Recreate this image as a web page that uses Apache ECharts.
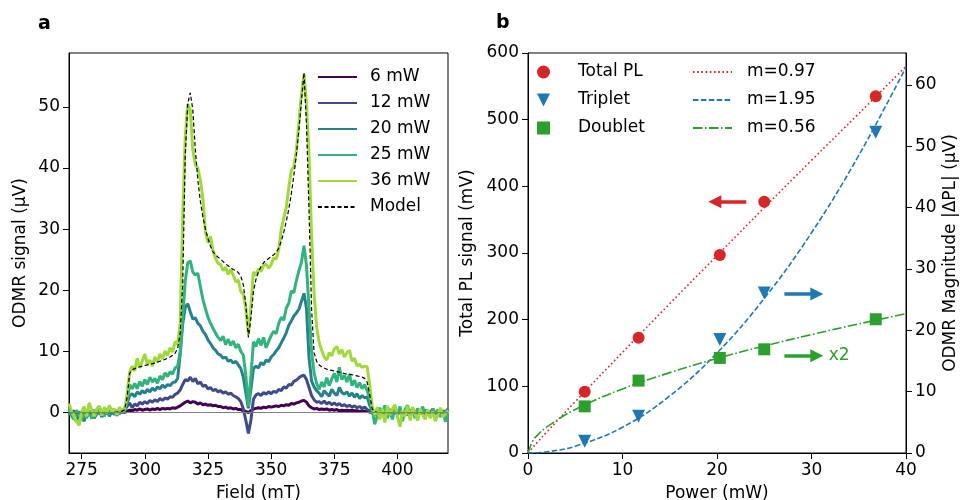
<!DOCTYPE html>
<html>
<head>
<meta charset="utf-8">
<script src="https://cdn.jsdelivr.net/npm/echarts@6.0.0/dist/echarts.min.js"></script>
<style>
  html, body { margin: 0; padding: 0; background: #fff; }
  #chart { width: 960px; height: 500px; }
</style>
</head>
<body>
<div id="chart"></div>
<script>
// ---- panel a : ODMR spectra, one value per mT from 270 to 420 ----
var field = [
  270,271,272,273,274,275,276,277,278,279, 280,281,282,283,284,285,286,287,288,289,
  290,291,292,293,294,295,296,297,298,299, 300,301,302,303,304,305,306,307,308,309,
  310,311,312,313,314,315,316,317,318,319, 320,321,322,323,324,325,326,327,328,329,
  330,331,332,333,334,335,336,337,338,339, 340,341,342,343,344,345,346,347,348,349,
  350,351,352,353,354,355,356,357,358,359, 360,361,362,363,364,365,366,367,368,369,
  370,371,372,373,374,375,376,377,378,379, 380,381,382,383,384,385,386,387,388,389,
  390,391,392,393,394,395,396,397,398,399, 400,401,402,403,404,405,406,407,408,409,
  410,411,412,413,414,415,416,417,418,419, 420
];

var odmr6 = [
  0,0.05,-0.05,0.1,0,-0.1,0.05,0,-0.05,0.05, 0,0.1,-0.05,0.05,0,0.05,-0.05,0.1,0,0.05,
  0,0.1,0.05,0.2,0.4,0.3,0.5,0.4,0.6,0.4, 0.5,0.6,0.4,0.6,0.5,0.7,0.5,0.7,0.6,0.7,
  0.6,0.8,0.7,0.9,1.1,1.4,1.7,1.9,1.6,1.8, 1.7,1.4,1.6,1.3,1.4,1.2,1.3,1.1,1.2,1.0,
  1.0,0.8,0.9,0.7,0.8,0.6,0.7,0.5,0.5,0.3, 0.2,0.0,0.3,0.6,0.7,0.8,0.7,0.9,0.8,1.0,
  0.9,1.0,1.1,1.0,1.2,1.1,1.3,1.2,1.5,1.4, 1.6,1.7,1.9,2.0,1.7,1.1,0.8,0.6,0.7,0.5,
  0.6,0.5,0.6,0.4,0.5,0.4,0.5,0.3,0.4,0.3, 0.4,0.3,0.4,0.3,0.3,0.2,0.3,0.2,0.2,0.1,
  0.05,0,0.05,-0.05,0,0.05,0,-0.05,0.05,0, 0,0.05,-0.05,0,0.05,0,-0.05,0.05,0,0,
  0.05,0,-0.05,0,0.05,0,0,-0.05,0.05,0, 0
];
var odmr12 = [
  0.1,-0.2,0.3,-0.4,0.1,-0.3,0.2,-0.5,0.1,-0.2, 0.3,-0.1,0.2,-0.4,0.1,-0.2,0.3,-0.1,0.2,0.0,
  0.2,0.1,0.4,1.0,1.6,0.8,1.4,1.1,1.7,1.4, 1.8,1.5,2.0,1.7,2.1,1.8,2.3,2.0,2.4,2.2,
  2.6,2.5,3.0,3.2,3.7,4.6,5.4,5.2,5.8,5.1, 5.6,4.7,5.0,4.3,4.5,3.9,4.1,3.6,3.8,3.4,
  3.6,3.2,3.4,3.0,3.2,2.8,2.6,2.3,1.8,0.6, -1.3,-3.4,-1.2,2.2,2.9,3.1,2.8,3.3,3.0,3.4,
  3.1,3.5,3.3,3.8,3.6,4.2,4.0,4.6,4.5,5.1, 5.3,5.7,6.0,6.1,5.4,4.1,2.8,2.1,1.7,1.8,
  1.5,1.9,1.4,1.7,1.3,1.6,1.2,1.5,1.1,1.3, 1.0,1.2,0.9,1.1,0.8,1.0,0.7,0.9,0.5,0.3,
  0.0,-0.2,0.2,-0.3,0.1,-0.1,0.2,-0.2,0.1,0.0, -0.2,0.2,-0.1,0.1,-0.3,0.2,0.0,-0.2,0.1,-0.1,
  0.2,-0.2,0.1,-0.1,0.2,0.0,-0.2,0.1,-0.1,0.2, 0.0
];
var odmr20 = [
  -0.3,0.4,-0.8,-1.5,0.2,-0.6,-1.4,0.3,-0.5,0.5, -0.9,-0.2,0.4,-0.7,-0.1,0.5,-0.6,0.2,-0.3,0.4,
  -0.2,0.3,0.6,1.5,2.8,3.1,2.6,3.4,3.0,3.6, 3.2,3.8,3.4,4.0,3.6,4.2,3.9,4.5,4.1,4.6,
  4.4,4.9,5.0,5.6,9.5,14.5,17.2,17.8,16.5,15.3, 15.5,14.6,14.2,13.3,12.8,11.9,11.3,10.6,10.2,9.6,
  9.4,8.9,9.1,8.4,8.6,8.1,8.4,7.8,7.2,5.8, 3.2,0.7,3.8,7.2,7.6,7.3,8.2,7.8,8.6,8.3,
  9.1,9.5,10.1,10.6,11.4,12.2,13.1,14.3,15.0,15.8, 16.3,16.9,18.2,19.5,17,9,5.2,4.2,3.6,3.2,
  2.6,3.6,3.1,2.7,3.8,3.2,2.8,4.1,3.3,3.0, 3.4,2.7,3.2,2.5,3.1,2.3,2.8,2.4,2.6,1.2,
  0.2,-0.4,0.5,-0.6,0.3,-0.2,0.7,-0.5,0.1,0.4, -0.3,0.6,-0.7,0.2,-0.4,0.5,-0.1,0.3,-0.6,0.4,
  -0.2,0.5,-0.4,0.1,0.6,-0.3,0.2,-0.5,0.3,0.1, 0.6
];
var odmr25 = [
  0.5,-0.6,-1.1,0.4,-0.4,-1.3,0.2,-0.9,0.3,-1.0, 0.4,-0.4,0.9,0.1,-0.6,0.7,-0.3,0.5,0.1,-0.5,
  0.4,0.0,0.3,2.0,4.6,3.9,4.8,3.9,5.1,4.3, 5.4,4.6,5.8,5.0,5.6,4.8,6.0,5.4,6.5,5.9,
  6.7,6.3,7.3,7.6,10,15.5,21.5,24.5,24.8,23, 22.5,22.8,20.6,18.5,17,15.6,14.6,13.8,13,12.3,
  11.8,12.5,11.1,12.0,11,11.7,10.6,11.2,10,9.4, 6,1,6,11.6,10.8,12.1,11,12.3,10.6,11.6,
  12.6,13.3,12.9,14.6,15.6,15.1,17.1,17.9,19.9,19.6, 21.6,23.2,24.6,27.3,24,17,10,6.5,4.8,3.8,
  5.0,4.2,5.7,4.4,5.5,6.4,5.0,7.4,5.4,6.1, 5.0,6.3,4.4,5.3,4.1,4.9,3.9,4.6,3.6,2.4,
  0.4,-1.9,-0.5,0.8,-0.3,1.2,-0.9,0.6,-1.1,0.8, -0.4,1.0,-1.4,0.5,1.2,-0.5,0.3,-0.9,0.7,-0.2,
  1.0,-0.6,0.4,-0.8,0.6,-0.3,0.5,-0.7,0.2,-1.5, 0.5
];
var odmr36 = [
  1.5,0.2,-0.6,-1.4,-2.1,0.1,1.0,-0.6,1.6,0.4, -0.6,0.6,1.1,-0.5,0.9,-0.1,1.2,0.2,0.6,-0.3,
  0.9,0.2,0.6,3.0,6.6,7.6,6.8,8.9,7.3,8.4, 9.6,7.9,8.6,7.6,9.1,8.3,9.6,8.8,10.1,9.3,
  10.6,9.9,11.6,11.2,14.5,32,45,50.5,49.5,43, 40.5,40,38,35,29.5,27.8,28.8,26.5,25.2,24.4,
  24.2,23.2,23.8,22.6,23.4,22.5,21.4,21.7,19.8,19.3, 17,12.8,17.5,23,22.4,23.5,23.1,24,24.3,23.6,
  24.2,25.3,25.1,26.6,30,31.8,33.6,36.8,39.6,40.2, 43,47.5,52,55.3,50.5,42,29,19.5,14,11.5,
  10.2,9.1,8.6,9.8,9.3,10.4,10.8,9.6,10.3,9.1, 9.8,10.2,8.4,8.9,7.6,7.9,7.4,7.6,7.5,4.6,
  1.0,-0.4,0.9,-1.1,0.6,-1.6,1.1,-0.4,0.6,1.3, -0.7,-2.3,0.4,-0.6,1.1,-1.3,0.9,-0.2,-1.3,0.6,
  -0.4,-1.1,0.5,-0.9,0.2,-1.4,-0.3,0.8,-0.7,-0.2, 0.3
];
var odmrModel = [
  0,0,0,0,0,0,0,0,0,0, 0,0,0,0,0,0,0,0,0.05,0.1,
  0.15,0.25,0.45,2.5,6.4,7.0,7.2,7.35,7.5,7.6, 7.7,7.8,7.9,8.0,8.1,8.25,8.4,8.55,8.7,8.9,
  9.1,9.4,9.7,10.5,13,21,42,50.5,52.3,49.5, 43,38,34.5,32,30,28.5,27.2,26.3,25.8,25.4,
  25.1,24.7,24.3,24,23.7,23.4,23.2,22.9,22.3,20.9, 17.6,12.3,15.5,19.8,21.8,23,23.9,24.5,24.9,25.2,
  25.5,25.8,26.2,26.9,28,29.5,31.3,33.3,35.8,38.8, 42.2,46.3,51,55.6,47,33,17,9.8,8.4,7.8,
  7.5,7.3,7.1,7.0,6.9,6.8,6.7,6.6,6.5,6.4, 6.3,6.25,6.2,6.1,6.0,5.9,5.8,5.6,5.0,3.0,
  0.6,0.15,0.05,0,0,0,0,0,0,0, 0,0,0,0,0,0,0,0,0,0,
  0,0,0,0,0,0,0,0,0,0, 0
];
var powerNames = ['6 mW', '12 mW', '20 mW', '25 mW', '36 mW'];
var powerColors = ['#440154', '#3f4a89', '#27808e', '#30b47c', '#a0da39'];
var fieldTicks = [275, 300, 325, 350, 375, 400];
var odmrTicks = [0, 10, 20, 30, 40, 50];

// ---- panel b : power dependence ----
var power = [6.0, 11.7, 20.3, 25.0, 36.8];
var totalPL = [92, 173, 297, 377, 535];
var triplet = [1.9, 6.0, 18.5, 26.1, 52.3];
var doublet = [7.6, 11.8, 15.5, 16.9, 21.8];
var fitPower = [0, 0.5, 1, 2, 5, 10, 15, 20, 25, 30, 35, 40];
var fitTotal = [0, 8.3, 16.2, 31.7, 77, 151, 224, 296, 368, 439, 509, 580];
var fitTriplet = [0, 0.01, 0.05, 0.18, 1.1, 4.2, 9.3, 16.3, 25.2, 35.9, 48.5, 62.9];
var fitDoublet = [0, 1.95, 2.9, 4.25, 7.1, 10.45, 13.1, 15.4, 17.45, 19.3, 21.05, 22.7];
var magTicks = [0, 10, 20, 30, 40, 50, 60];

var FONT = 'DejaVu Sans';
var RED = '#d62728', BLUE = '#1f77b4', GREEN = '#2ca02c';

function pairs(xs, ys) {
    return xs.map(function (x, i) { return [x, ys[i]]; });
}

function axisBase(extra) {
    var ax = {
        type: 'value',
        axisLine: {show: true, onZero: false, lineStyle: {color: '#000', width: 1}},
        axisTick: {show: true, length: 6, lineStyle: {color: '#000', width: 1}},
        axisLabel: {color: '#000', fontSize: 17, fontFamily: FONT, margin: 9},
        splitLine: {show: false},
        nameLocation: 'middle',
        nameTextStyle: {color: '#000', fontSize: 17, fontFamily: FONT}
    };
    return Object.assign(ax, extra);
}

var odmrSets = [odmr6, odmr12, odmr20, odmr25, odmr36];
var series = odmrSets.map(function (vals, i) {
    return {
        name: powerNames[i],
        type: 'line',
        xAxisIndex: 0, yAxisIndex: 0,
        data: pairs(field, vals),
        symbol: 'none',
        lineStyle: {color: powerColors[i], width: 3},
        itemStyle: {color: powerColors[i]},
        z: 2
    };
});
series.push({
    name: 'Model',
    type: 'line',
    xAxisIndex: 0, yAxisIndex: 0,
    data: pairs(field, odmrModel),
    symbol: 'none',
    lineStyle: {color: '#000', width: 1.2, type: [4, 2.5]},
    itemStyle: {color: '#000'},
    z: 3,
    markLine: {
        silent: true, symbol: 'none', label: {show: false},
        lineStyle: {color: '#808080', width: 1.2, type: 'solid'},
        data: [{yAxis: 0}]
    }
});

// fit curves
series.push({
    name: 'm=0.97', type: 'line', xAxisIndex: 1, yAxisIndex: 1,
    data: pairs(fitPower, fitTotal), symbol: 'none', smooth: 0.4,
    lineStyle: {color: RED, width: 1.6, type: [1.6, 2.6]}, itemStyle: {color: RED}, z: 2
});
series.push({
    name: 'm=1.95', type: 'line', xAxisIndex: 1, yAxisIndex: 2,
    data: pairs(fitPower, fitTriplet), symbol: 'none', smooth: 0.4,
    lineStyle: {color: BLUE, width: 1.6, type: [5.5, 2.4]}, itemStyle: {color: BLUE}, z: 2
});
series.push({
    name: 'm=0.56', type: 'line', xAxisIndex: 1, yAxisIndex: 2,
    data: pairs(fitPower, fitDoublet), symbol: 'none', smooth: 0.4,
    lineStyle: {color: GREEN, width: 1.6, type: [9.6, 2.4, 1.6, 2.4]}, itemStyle: {color: GREEN}, z: 2
});

function arrow(color, from, to, label) {
    return {
        silent: true,
        symbol: ['none', 'triangle'],
        symbolSize: 13,
        lineStyle: {color: color, width: 3.5, type: 'solid'},
        label: label ? {show: true, position: 'end', formatter: label, color: color,
                        fontSize: 17, fontFamily: FONT, distance: 12} : {show: false},
        data: [[{coord: from}, {coord: to}]]
    };
}

series.push({
    name: 'Total PL', type: 'scatter', xAxisIndex: 1, yAxisIndex: 1,
    data: pairs(power, totalPL), symbol: 'circle', symbolSize: 12,
    itemStyle: {color: RED, opacity: 1}, z: 4,
    markLine: arrow(RED, [23.1, 377], [19.77, 377])
});
series.push({
    name: 'Triplet', type: 'scatter', xAxisIndex: 1, yAxisIndex: 2,
    data: pairs(power, triplet), symbol: 'triangle', symbolRotate: 180, symbolSize: 13,
    itemStyle: {color: BLUE, opacity: 1}, z: 4,
    markLine: arrow(BLUE, [27.13, 25.9], [30.56, 25.9])
});
series.push({
    name: 'Doublet', type: 'scatter', xAxisIndex: 1, yAxisIndex: 2,
    data: pairs(power, doublet), symbol: 'rect', symbolSize: 12,
    itemStyle: {color: GREEN, opacity: 1}, z: 4,
    markLine: arrow(GREEN, [27.13, 15.85], [30.56, 15.85], 'x2')
});

var legendText = {color: '#000', fontSize: 17, fontFamily: FONT, lineHeight: 18};

var option = {
    animation: false,
    backgroundColor: '#fff',
    grid: [
        {left: 69, top: 53, width: 379, height: 400, outerBoundsMode: 'none',
         show: true, borderColor: '#000', borderWidth: 1, backgroundColor: 'transparent'},
        {left: 528, top: 53, width: 378, height: 400, outerBoundsMode: 'none',
         show: true, borderColor: '#000', borderWidth: 1, backgroundColor: 'transparent'}
    ],
    xAxis: [
        axisBase({gridIndex: 0, min: 270, max: 420, name: 'Field (mT)', nameGap: 32,
            axisTick: {show: true, length: 6, customValues: fieldTicks, lineStyle: {color: '#000'}},
            axisLabel: {color: '#000', fontSize: 17, fontFamily: FONT, margin: 9, customValues: fieldTicks}}),
        axisBase({gridIndex: 1, min: 0, max: 40, interval: 10, name: 'Power (mW)', nameGap: 32})
    ],
    yAxis: [
        axisBase({gridIndex: 0, min: -6.6, max: 58.8, name: 'ODMR signal (µV)', nameGap: 40,
            axisTick: {show: true, length: 6, customValues: odmrTicks, lineStyle: {color: '#000'}},
            axisLabel: {color: '#000', fontSize: 17, fontFamily: FONT, margin: 9, customValues: odmrTicks}}),
        axisBase({gridIndex: 1, min: 0, max: 600, interval: 100, name: 'Total PL signal (mV)', nameGap: 52}),
        axisBase({gridIndex: 1, position: 'right', min: 0, max: 65.2, name: 'ODMR Magnitude |ΔPL| (µV)', nameGap: 36,
            axisTick: {show: true, length: 6, customValues: magTicks, lineStyle: {color: '#000'}},
            axisLabel: {color: '#000', fontSize: 17, fontFamily: FONT, margin: 9, customValues: magTicks}})
    ],
    legend: [
        {data: powerNames.concat(['Model']), orient: 'vertical', left: 312, top: 63,
         itemWidth: 39, itemHeight: 14, itemGap: 8, selectedMode: false,
         itemStyle: {opacity: 0},
         textStyle: Object.assign({padding: [0, 0, 0, 8]}, legendText)},
        {data: ['Total PL', {name: 'Triplet', icon: 'path://M0,0L10,0L5,10Z'}, 'Doublet'],
         orient: 'vertical', left: 532, top: 58,
         itemWidth: 13, itemHeight: 13, itemGap: 10, selectedMode: false,
         textStyle: Object.assign({padding: [0, 0, 0, 23]}, legendText)},
        {data: ['m=0.97', 'm=1.95', 'm=0.56'], orient: 'vertical', left: 687, top: 58,
         itemWidth: 39, itemHeight: 13, itemGap: 10, selectedMode: false,
         itemStyle: {opacity: 0},
         textStyle: Object.assign({padding: [0, 0, 0, 10]}, legendText)}
    ],
    graphic: [
        {type: 'text', left: 38, top: 15, style: {text: 'a', fontSize: 19, fontWeight: 'bold', fontFamily: FONT, fill: '#000'}},
        {type: 'text', left: 496, top: 14, style: {text: 'b', fontSize: 19, fontWeight: 'bold', fontFamily: FONT, fill: '#000'}}
    ],
    series: series
};

echarts.init(document.getElementById('chart'), null, {renderer: 'canvas'}).setOption(option);
</script>
</body>
</html>
